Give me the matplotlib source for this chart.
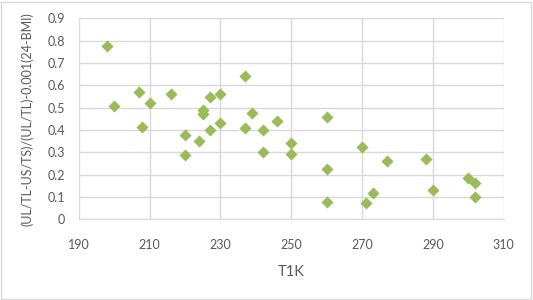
import numpy as np
import matplotlib.pyplot as plt
from matplotlib.patches import Rectangle

plt.rcParams['font.family'] = ['Lato', 'DejaVu Sans']

# T1K values and the index values
t1k = [198, 200, 207, 210, 208, 216, 237, 230, 227, 225, 225, 239, 246, 260,
       230, 227, 237, 242, 220, 224, 250, 242, 250, 220, 260, 260, 270, 277,
       288, 273, 271, 290, 300, 302, 302]
index = [0.775, 0.508, 0.571, 0.522, 0.415, 0.562, 0.640, 0.560, 0.548, 0.490,
         0.471, 0.477, 0.440, 0.460, 0.432, 0.399, 0.408, 0.399, 0.379, 0.350,
         0.341, 0.303, 0.293, 0.288, 0.226, 0.079, 0.322, 0.263, 0.272, 0.117,
         0.072, 0.133, 0.187, 0.163, 0.100]

xticks = [190, 210, 230, 250, 270, 290, 310]
yticks = [0, 0.1, 0.2, 0.3, 0.4, 0.5, 0.6, 0.7, 0.8, 0.9]

fig = plt.figure(figsize=(5.33, 3.0), dpi=100)
ax = fig.add_axes([0.1477, 0.269, 0.7974, 0.670])

ax.scatter(t1k, index, marker='D', s=38, color='#9BBB59', linewidths=0, zorder=3)

ax.set_xlim(190, 310)
ax.set_ylim(0, 0.9)
ax.set_xticks(xticks)
ax.set_yticks(yticks)
ax.set_yticklabels(['0'] + ['%.1f' % v for v in yticks[1:]])
ax.grid(True, color='#D9D9D9', linewidth=1.0, zorder=0)
for side in ['top', 'right', 'left']:
    ax.spines[side].set_visible(False)
ax.spines['bottom'].set_color('#D9D9D9')
ax.tick_params(length=0, colors='#595959', labelsize=9)
ax.tick_params(axis='x', pad=14)
ax.tick_params(axis='y', pad=10)

ax.set_xlabel('T1K', fontsize=10.5, color='#595959', labelpad=10)
ax.set_ylabel('(UL/TL-US/TS)/(UL/TL)-0.001(24-BMI)', fontsize=9, color='#595959', labelpad=10)

fig.patches.append(Rectangle((0.002, 0.003), 0.994, 0.992, transform=fig.transFigure,
                             fill=False, edgecolor='#D9D9D9', linewidth=1.0))

fig.savefig('out.png', dpi=100)
